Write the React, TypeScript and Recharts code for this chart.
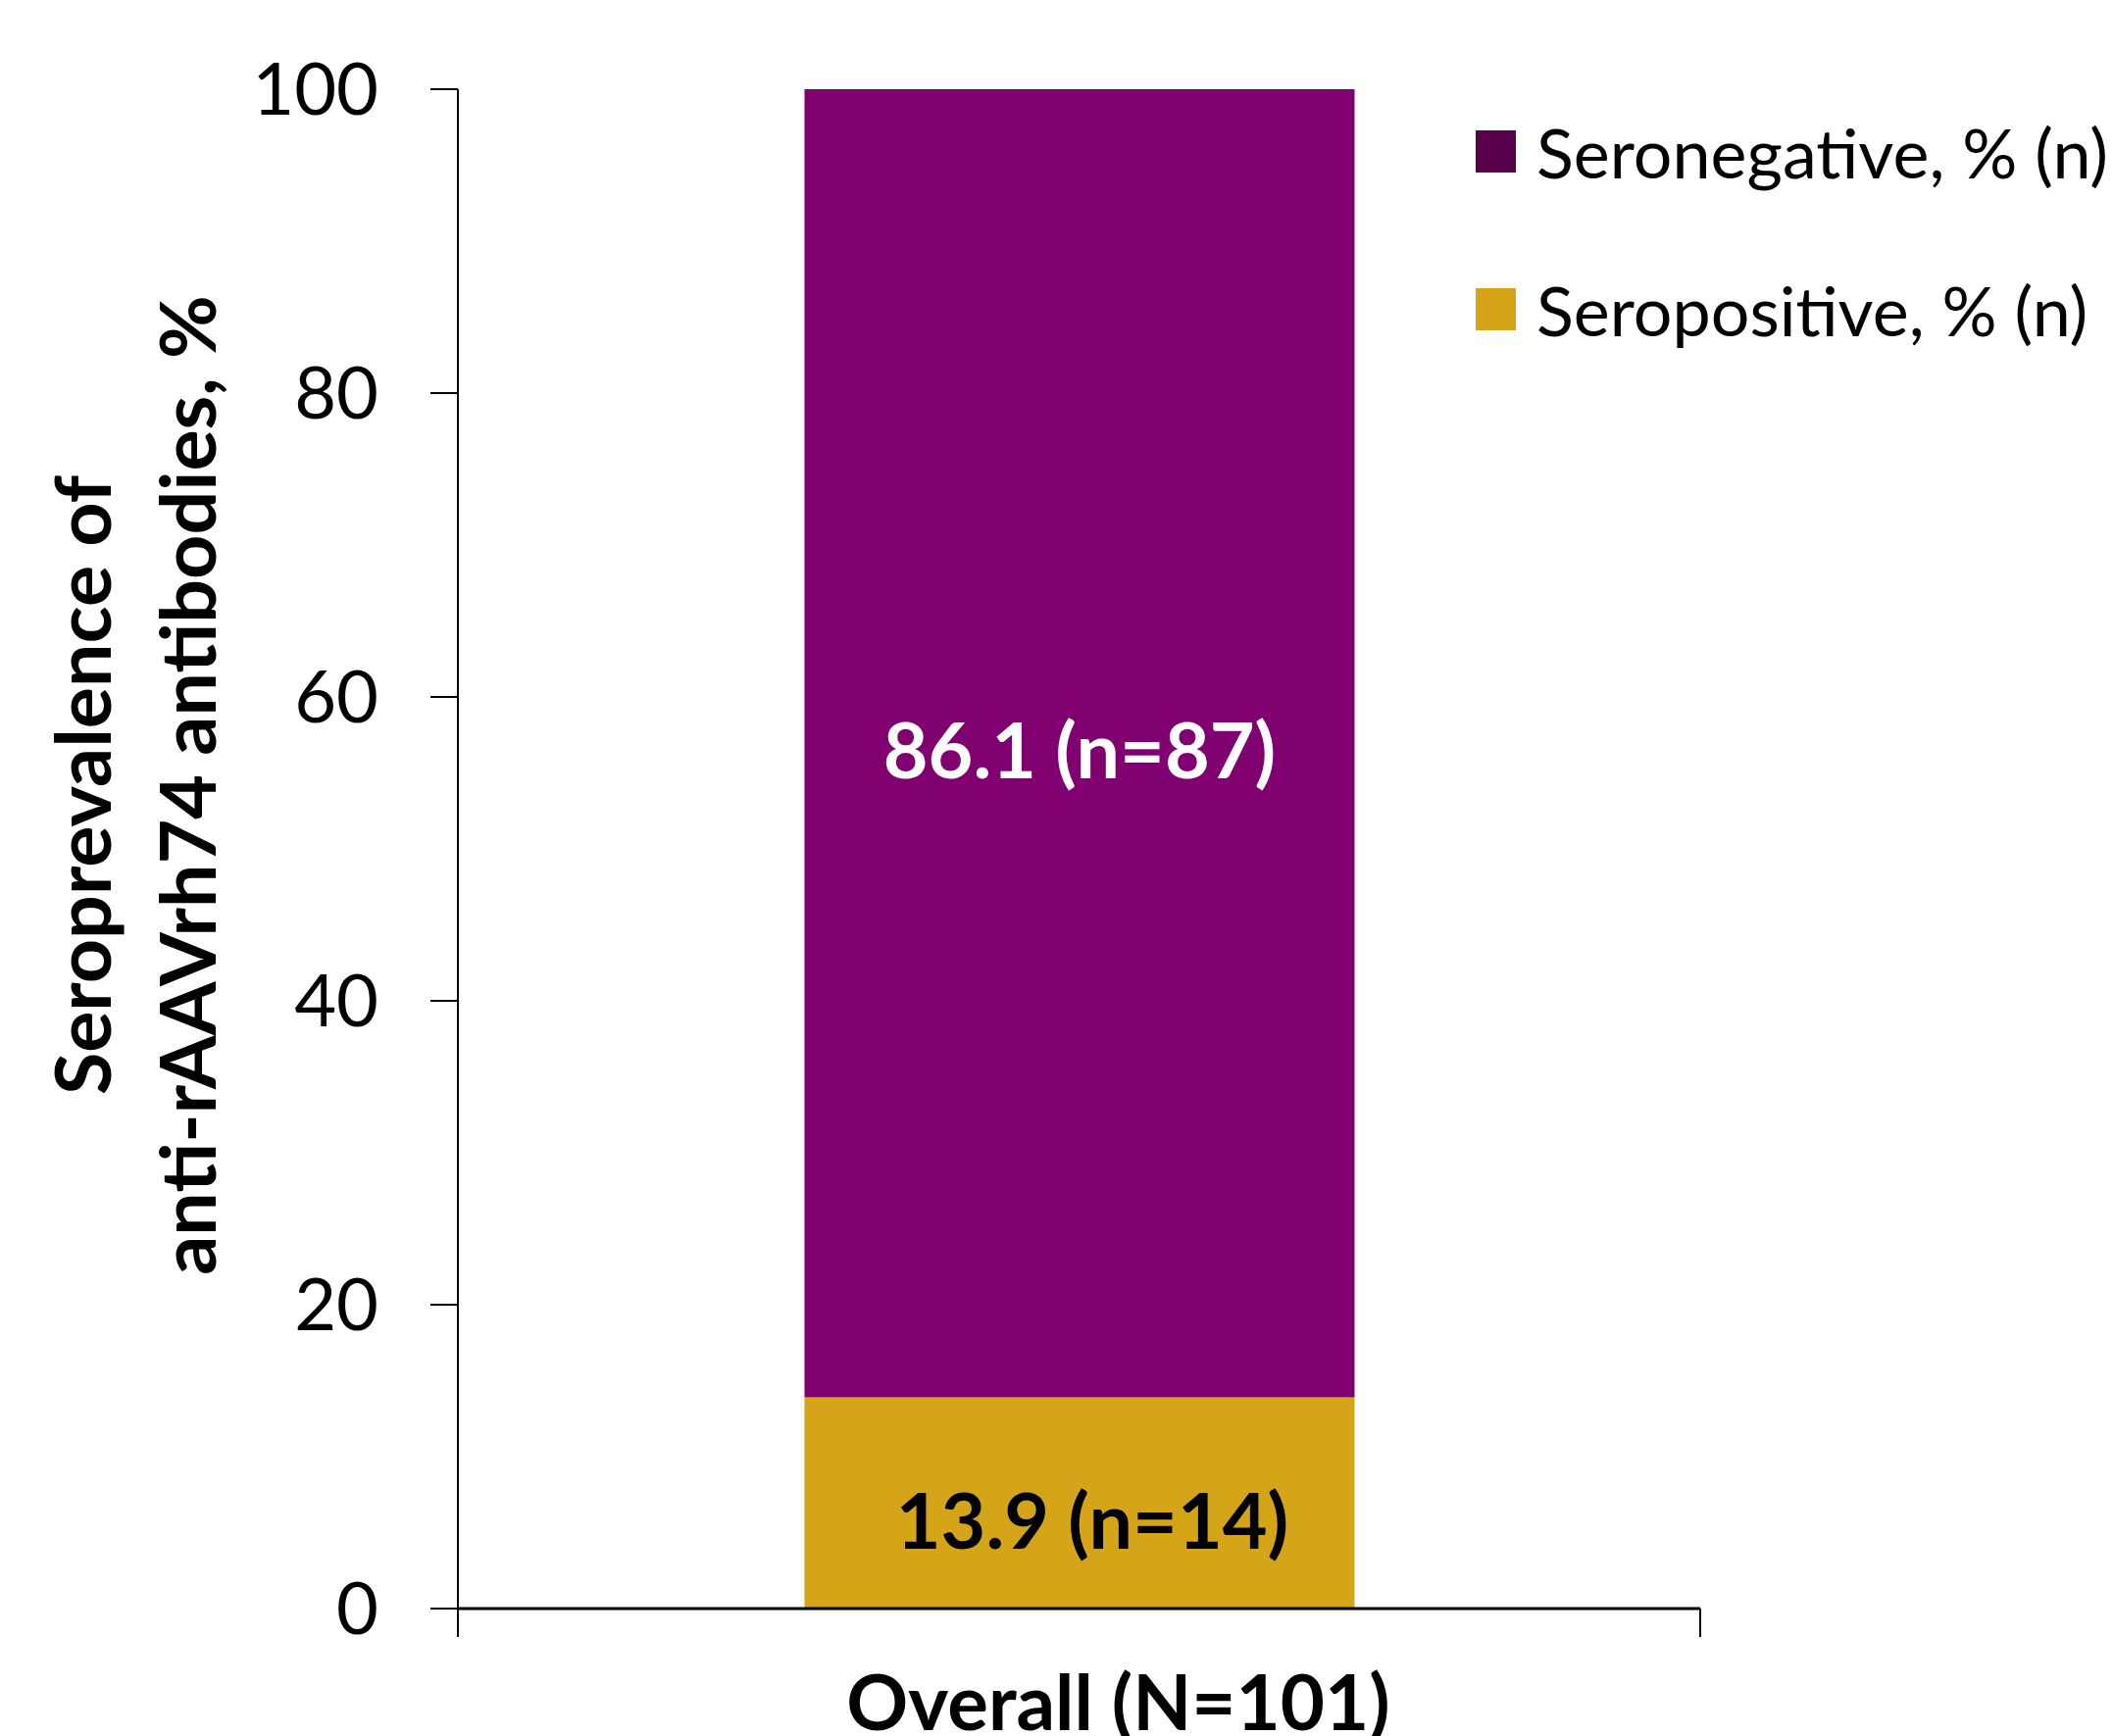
import React from 'react'
import { BarChart, Bar, XAxis, YAxis, LabelList } from 'recharts'

const categories = ['Overall (N=101)']
const seropositivePct = [13.9]
const seronegativePct = [86.1]
const seropositiveN = [14]
const seronegativeN = [87]
const yTicks = [0, 20, 40, 60, 80, 100]
const legendNames = ['Seronegative, % (n)', 'Seropositive, % (n)']
const legendColors = ['#58004a', '#d4a419']

const FONT = 'Lato, "Open Sans", sans-serif'

// each category sits in the middle of a unit slot so the axis can show slot boundaries
const data = categories.map((c, i) => ({
  slot: i + 0.5,
  category: c,
  pos: seropositivePct[i],
  neg: seronegativePct[i],
  posN: seropositiveN[i],
  negN: seronegativeN[i],
}))
const xTicks = [0, ...categories.flatMap((_, i) => [i + 0.5, i + 1])]

function makeLabel(key: 'posN' | 'negN', fill: string, dx: number, dy: number) {
  return (props: any) => {
    const { x, y, width, height, value, index } = props
    const n = data[index][key]
    return (
      <text
        x={x + width / 2 + dx}
        y={y + height / 2 + dy}
        textAnchor="middle"
        dominantBaseline="central"
        fill={fill}
        fontFamily={FONT}
        fontWeight={700}
        fontSize={79}
      >
        {`${value} (n=${n})`}
      </text>
    )
  }
}

function YLabel() {
  const cy = 801
  return (
    <g fontFamily={FONT} fontWeight={700} fontSize={79} fill="#000">
      <text x={82} y={cy} transform={`rotate(-90, 82, ${cy})`} textAnchor="middle" dominantBaseline="central">
        Seroprevalence of
      </text>
      <text x={189} y={cy} transform={`rotate(-90, 189, ${cy})`} textAnchor="middle" dominantBaseline="central">
        anti-rAAVrh74 antibodies, %
      </text>
    </g>
  )
}

function SlotTick(props: any) {
  const { x, y, payload } = props
  const v = payload.value
  if (Number.isInteger(v)) {
    // boundary tick
    return <line x1={x} x2={x} y1={y} y2={y + 29} stroke="#000" strokeWidth={2} />
  }
  const cat = categories[Math.floor(v)]
  return (
    <text x={x + 40} y={y + 124} textAnchor="middle" fontFamily={FONT} fontWeight={700} fontSize={78} fill="#000">
      {cat}
    </text>
  )
}

export default function App() {
  return (
    <div style={{ position: 'absolute', left: 0, top: 0, width: 2155, height: 1771, background: '#fff', overflow: 'hidden' }}>
      <BarChart width={2155} height={1771} data={data} margin={{ top: 91, right: 421, bottom: 0, left: 0 }}>
        <XAxis
          dataKey="slot"
          type="number"
          domain={[0, categories.length]}
          ticks={xTicks}
          interval={0}
          height={130}
          axisLine={{ stroke: '#000', strokeWidth: 3 }}
          tickLine={false}
          tickSize={0}
          tickMargin={0}
          tick={<SlotTick />}
        />
        <YAxis
          width={467}
          domain={[0, 100]}
          ticks={yTicks}
          tickSize={28}
          tickMargin={53}
          axisLine={{ stroke: '#000', strokeWidth: 2 }}
          tickLine={{ stroke: '#000', strokeWidth: 2 }}
          tick={{ fontFamily: FONT, fontSize: 74, fill: '#000' }}
          label={{ content: () => <YLabel /> }}
        />
        <Bar dataKey="pos" stackId="s" fill="#d4a419" barSize={561} isAnimationActive={false}>
          <LabelList dataKey="pos" content={makeLabel('posN', '#000', 13, 16)} />
        </Bar>
        <Bar dataKey="neg" stackId="s" fill="#800070" barSize={561} isAnimationActive={false}>
          <LabelList dataKey="neg" content={makeLabel('negN', '#fff', 0, 5)} />
        </Bar>
      </BarChart>
      <div style={{ position: 'absolute', left: 1505, top: 74, fontFamily: FONT }}>
        {legendNames.map((name, i) => (
          <div key={name} style={{ display: 'flex', alignItems: 'center', height: 161 }}>
            <div style={{ width: 41, height: 43, background: legendColors[i], marginRight: 21 }} />
            <span style={{ fontSize: 70, color: '#000', whiteSpace: 'nowrap' }}>{name}</span>
          </div>
        ))}
      </div>
    </div>
  )
}
